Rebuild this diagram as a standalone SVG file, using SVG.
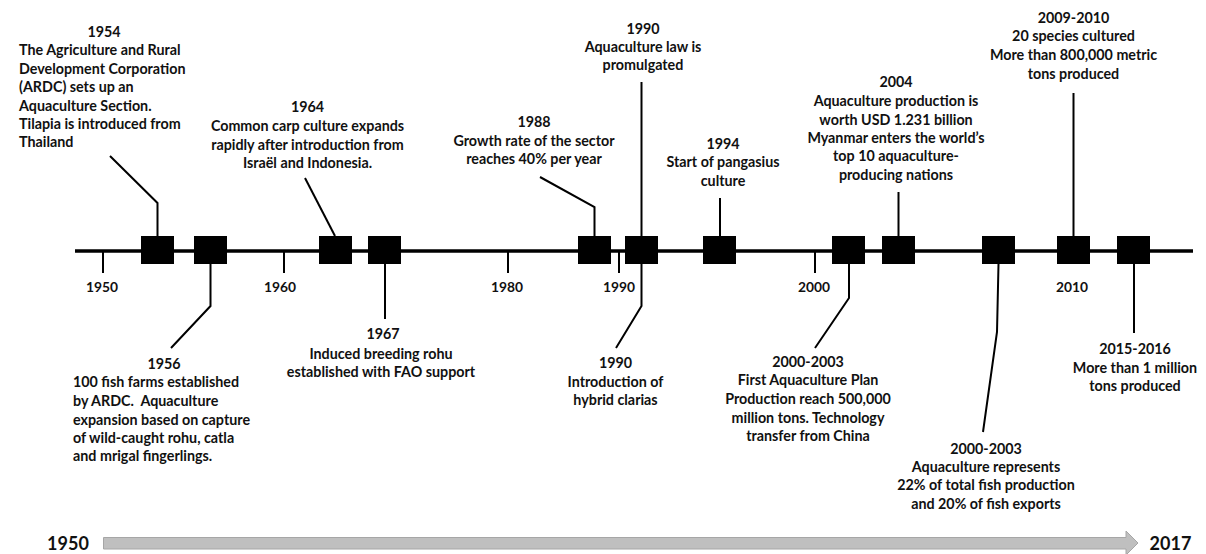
<svg xmlns="http://www.w3.org/2000/svg" width="1206" height="554" viewBox="0 0 1206 554">
<style>
text{font-family:Lato,"Noto Sans","DejaVu Sans",sans-serif;font-weight:bold;font-size:14.3px;fill:#111}
.m{text-anchor:middle}
.tk{font-size:13.8px}
.big{font-size:18px}
.box{fill:#000}
.ln{stroke:#000;stroke-width:2;fill:none}
.tick{stroke:#000;stroke-width:2}
</style>
<rect width="1206" height="554" fill="#fff"/>
<g id="axis">
<line x1="75" y1="251" x2="1193" y2="251" stroke="#000" stroke-width="3.5"/>
<line class="tick" x1="103" y1="251" x2="103" y2="273"/>
<line class="tick" x1="284" y1="251" x2="284" y2="273"/>
<line class="tick" x1="508" y1="251" x2="508" y2="273"/>
<line class="tick" x1="619" y1="251" x2="619" y2="273"/>
<line class="tick" x1="815" y1="251" x2="815" y2="273"/>
<text class="m tk" x="102" y="291.5">1950</text>
<text class="m tk" x="280" y="291.5">1960</text>
<text class="m tk" x="507" y="291.5">1980</text>
<text class="m tk" x="619" y="291.5">1990</text>
<text class="m tk" x="814" y="291.5">2000</text>
<text class="m tk" x="1072" y="291.5">2010</text>
</g>
<g id="connectors">
<polyline class="ln" points="157.5,236 157.5,203 110,156"/>
<polyline class="ln" points="210.5,264 210.5,306 171,348"/>
<polyline class="ln" points="335,236 305,178"/>
<polyline class="ln" points="385,264 385,319"/>
<polyline class="ln" points="594.5,236 594.5,207 540,177"/>
<polyline class="ln" points="641.5,236 641.5,82"/>
<polyline class="ln" points="641.5,264 641.5,306 616,348"/>
<polyline class="ln" points="720,236 720,198"/>
<polyline class="ln" points="849,264 849,298 815,348"/>
<polyline class="ln" points="898.5,236 898.5,192"/>
<polyline class="ln" points="998.5,264 997,332 983,432"/>
<polyline class="ln" points="1073.5,236 1073.5,93"/>
<polyline class="ln" points="1134,264 1134,333"/>
</g>
<g id="e1954">
<rect class="box" x="141" y="236" width="33" height="28"/>
<text class="m" x="104" y="37">1954</text>
<text x="19" y="55">The Agriculture and Rural</text>
<text x="19" y="73.5">Development Corporation</text>
<text x="19" y="92">(ARDC) sets up an</text>
<text x="19" y="110.5">Aquaculture Section.</text>
<text x="19" y="128.5">Tilapia is introduced from</text>
<text x="19" y="147">Thailand</text>
</g>
<g id="e1956">
<rect class="box" x="194" y="236" width="33" height="28"/>
<text class="m" x="164" y="368.5">1956</text>
<text x="73" y="387">100 fish farms established</text>
<text x="73" y="406">by ARDC.&#160; Aquaculture</text>
<text x="73" y="424.5">expansion based on capture</text>
<text x="73" y="443">of wild-caught rohu, catla</text>
<text x="73" y="461">and mrigal fingerlings.</text>
</g>
<g id="e1964">
<rect class="box" x="319" y="236" width="33" height="28"/>
<text class="m" x="307.5" y="112">1964</text>
<text class="m" x="307.5" y="131">Common carp culture expands</text>
<text class="m" x="307.5" y="149.5">rapidly after introduction from</text>
<text class="m" x="307.5" y="168">Israël and Indonesia.</text>
</g>
<g id="e1967">
<rect class="box" x="368" y="236" width="33" height="28"/>
<text class="m" x="383" y="339">1967</text>
<text class="m" x="381" y="358.5">Induced breeding rohu</text>
<text class="m" x="381" y="377">established with FAO support</text>
</g>
<g id="e1988">
<rect class="box" x="578" y="236" width="33" height="28"/>
<text class="m" x="534" y="127">1988</text>
<text class="m" x="534" y="145.5">Growth rate of the sector</text>
<text class="m" x="534" y="163.5">reaches 40% per year</text>
</g>
<g id="e1990a">
<rect class="box" x="625" y="236" width="33" height="28"/>
<text class="m" x="643" y="33.5">1990</text>
<text class="m" x="643" y="52">Aquaculture law is</text>
<text class="m" x="643" y="70">promulgated</text>
</g>
<g id="e1990b">
<text class="m" x="615.5" y="367.5">1990</text>
<text class="m" x="615.5" y="387">Introduction of</text>
<text class="m" x="615.5" y="405">hybrid clarias</text>
</g>
<g id="e1994">
<rect class="box" x="703" y="236" width="33" height="28"/>
<text class="m" x="723" y="148.5">1994</text>
<text class="m" x="723" y="167">Start of pangasius</text>
<text class="m" x="723" y="186">culture</text>
</g>
<g id="e2000a">
<rect class="box" x="832" y="236" width="33" height="28"/>
<text class="m" x="808" y="367">2000-2003</text>
<text class="m" x="808" y="385">First Aquaculture Plan</text>
<text class="m" x="808" y="403.5">Production reach 500,000</text>
<text class="m" x="808" y="422.5">million tons. Technology</text>
<text class="m" x="808" y="441">transfer from China</text>
</g>
<g id="e2004">
<rect class="box" x="882" y="236" width="33" height="28"/>
<text class="m" x="896" y="87">2004</text>
<text class="m" x="896" y="106">Aquaculture production is</text>
<text class="m" x="896" y="124.5">worth USD 1.231 billion</text>
<text class="m" x="896" y="143">Myanmar enters the world’s</text>
<text class="m" x="896" y="161">top 10 aquaculture-</text>
<text class="m" x="896" y="179.5">producing nations</text>
</g>
<g id="e2000b">
<rect class="box" x="982" y="236" width="33" height="28"/>
<text class="m" x="986" y="453.5">2000-2003</text>
<text class="m" x="986" y="472">Aquaculture represents</text>
<text class="m" x="986" y="490">22% of total fish production</text>
<text class="m" x="986" y="508.5">and 20% of fish exports</text>
</g>
<g id="e2009">
<rect class="box" x="1057" y="236" width="33" height="28"/>
<text class="m" x="1073.5" y="22.5">2009-2010</text>
<text class="m" x="1073.5" y="41">20 species cultured</text>
<text class="m" x="1073.5" y="60">More than 800,000 metric</text>
<text class="m" x="1073.5" y="78.5">tons produced</text>
</g>
<g id="e2015">
<rect class="box" x="1117" y="236" width="33" height="28"/>
<text class="m" x="1135" y="354">2015-2016</text>
<text class="m" x="1135" y="372.5">More than 1 million</text>
<text class="m" x="1135" y="391">tons produced</text>
</g>
<g id="span">
<polygon points="103.5,537.5 1126,537.5 1126,531 1138,543 1126,555 1126,549 103.5,549" fill="#bfbfbf" stroke="#a6a6a6" stroke-width="1"/>
<text class="m big" x="68" y="549.5">1950</text>
<text class="m big" x="1170.5" y="549.5">2017</text>
</g>
</svg>
